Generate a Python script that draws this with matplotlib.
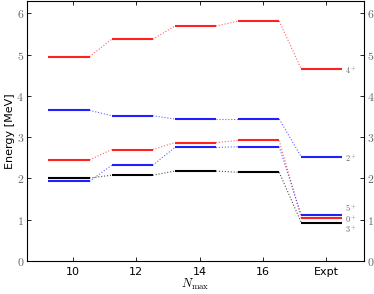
import matplotlib
matplotlib.use('Agg')
import matplotlib.pyplot as plt
from matplotlib.ticker import FuncFormatter

plt.rcParams['mathtext.fontset'] = 'cm'

# Calculations for Nmax = 10..16 and experiment
columns = ['10', '12', '14', '16', 'Expt']
states = ['4^+', '2^+', '0^+', '5^+', '3^+']
colors = ['#ff2020', '#2020ff', '#ff2020', '#2020ff', 'black']

e_4p = [4.95, 5.37, 5.69, 5.81, 4.65]
e_2p = [3.65, 3.52, 3.44, 3.44, 2.52]
e_0p = [2.45, 2.70, 2.87, 2.92, 1.04]
e_5p = [1.93, 2.32, 2.75, 2.77, 1.11]
e_3p = [2.01, 2.08, 2.18, 2.15, 0.93]
energies = [e_4p, e_2p, e_0p, e_5p, e_3p]

# label heights next to the Expt column (shifted where levels crowd)
label_y = [4.63, 2.50, 1.02, 1.27, 0.77]

lo, hi = 0.39, 0.26   # level extent left / right of the column position

fig = plt.figure(figsize=(3.74, 2.94), dpi=100)
ax = fig.add_axes([0.072, 0.112, 0.901, 0.885])

for ens, col in zip(energies, colors):
    for i, e in enumerate(ens):
        ax.plot([i - lo, i + hi], [e, e], color=col, lw=1.5, solid_capstyle='butt')
        if i < len(ens) - 1:
            ax.plot([i + hi, i + 1 - lo], [e, ens[i + 1]], color=col,
                    lw=0.8, ls=':', alpha=0.7)

for st, y in zip(states, label_y):
    ax.text(4 + hi + 0.04, y, '$' + st + '$', fontsize=6, color='#666666',
            va='center', ha='left')

ax.set_xlim(-0.73, 4.6)
ax.set_ylim(0, 6.3)
ax.set_xticks(range(len(columns)))
ax.set_xticklabels(columns, fontsize=8)
ax.set_yticks(range(7))
ax.yaxis.set_major_formatter(FuncFormatter(lambda v, p: '$%d$' % v))
ax.tick_params(direction='in', top=True, right=True, length=3, width=0.6)
ax.tick_params(axis='y', labelleft=True, labelright=True, labelsize=8.5,
               labelcolor='#666666', pad=2)
ax.tick_params(axis='x', pad=4)
for s in ax.spines.values():
    s.set_linewidth(0.8)

ax.set_ylabel('Energy [MeV]', fontsize=8, labelpad=1)
ax.set_xlabel(r'$N_\mathrm{max}$', fontsize=9, labelpad=0)

fig.savefig('out.png', dpi=100)
